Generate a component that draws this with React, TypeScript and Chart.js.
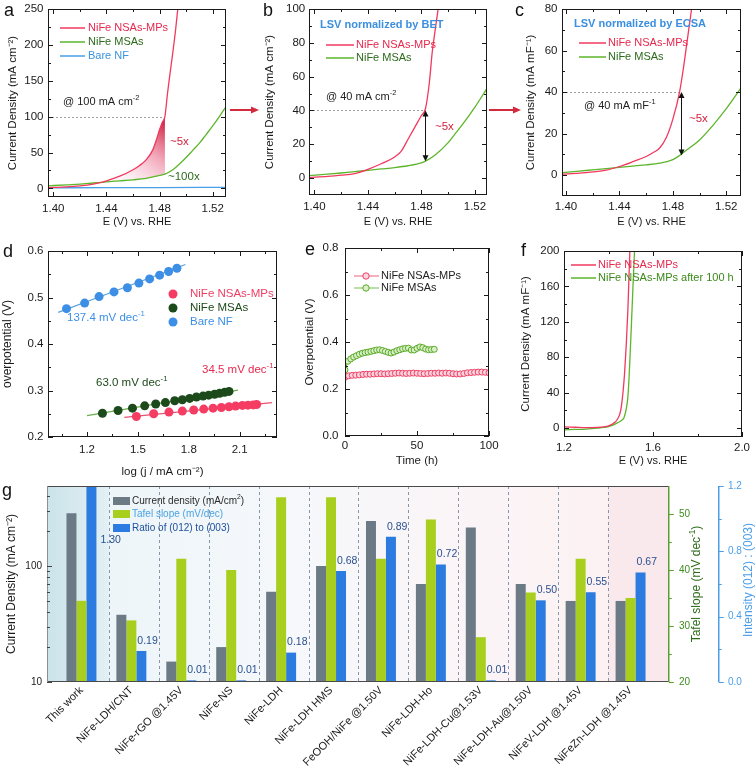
import React, { useEffect, useRef } from 'react';
import { Chart, registerables } from 'chart.js';

Chart.register(...registerables);

const FONT = "'Liberation Sans', Arial, Helvetica, sans-serif";
Chart.defaults.font.family = FONT;
Chart.defaults.color = '#1a1a1a';

/* ---------------- panel a ---------------- */
const A_X_TICKS = [1.40, 1.44, 1.48, 1.52];
const A_X_MINOR = [1.42, 1.46, 1.50];
const A_Y_TICKS = [0, 50, 100, 150, 200, 250];
const A_Y_MINOR = [25, 75, 125, 175, 225];
const A_RED_E = [1.396, 1.41, 1.42, 1.43, 1.437, 1.44, 1.45, 1.46, 1.465, 1.47, 1.475, 1.478, 1.48, 1.482, 1.484, 1.486, 1.488, 1.49, 1.492, 1.4937];
const A_RED_J = [1.0, 2.0, 3.5, 6.0, 8.8, 10.5, 17, 26, 32, 40, 54, 70, 82, 92, 100, 133, 162, 190, 220, 250];
const A_GRN_E = [1.396, 1.41, 1.42, 1.43, 1.437, 1.44, 1.45, 1.46, 1.47, 1.475, 1.48, 1.484, 1.49, 1.495, 1.50, 1.505, 1.51, 1.515, 1.52, 1.525, 1.53];
const A_GRN_J = [3.5, 5, 6, 7.5, 8.5, 9, 10.5, 12, 14, 16, 18, 20, 26, 34, 43, 53, 63, 75, 87, 100, 114];
const A_BLU_E = [1.396, 1.44, 1.48, 1.53];
const A_BLU_J = [0.8, 1.0, 1.2, 1.5];
const A_REF_J = 100;
const A_REF_E = 1.484;
const A_FILL_FROM = 1.437;

/* ---------------- panel b ---------------- */
const B_Y_TICKS = [0, 20, 40, 60, 80, 100];
const B_Y_MINOR = [10, 30, 50, 70, 90];
const B_RED_E = [1.396, 1.41, 1.42, 1.43, 1.44, 1.45, 1.46, 1.465, 1.47, 1.475, 1.48, 1.483, 1.486, 1.488, 1.49, 1.4925];
const B_RED_J = [0.3, 1.0, 1.7, 2.6, 5.2, 8.5, 12.5, 16, 23, 30, 37, 41, 57, 74, 86, 100];
const B_GRN_E = [1.396, 1.41, 1.42, 1.43, 1.44, 1.45, 1.46, 1.47, 1.48, 1.483, 1.49, 1.50, 1.505, 1.51, 1.52, 1.529];
const B_GRN_J = [1.5, 2.3, 3, 3.8, 4.6, 5.4, 6.2, 7.3, 9, 10, 13.5, 21, 26, 31, 42, 53];
const B_REF_J = 40;
const B_REF_E = 1.483;
const B_ARROW_LOW = 10;

/* ---------------- panel c ---------------- */
const C_Y_TICKS = [0, 20, 40, 60, 80];
const C_Y_MINOR = [10, 30, 50, 70];
const C_RED_E = [1.397, 1.41, 1.42, 1.43, 1.44, 1.45, 1.46, 1.465, 1.47, 1.475, 1.48, 1.485, 1.488, 1.491, 1.494];
const C_RED_J = [0.5, 1, 1.6, 2.4, 4.2, 6.5, 9, 10.8, 13, 18, 27, 40, 52, 66, 80];
const C_GRN_E = [1.397, 1.41, 1.42, 1.43, 1.44, 1.45, 1.46, 1.47, 1.48, 1.485, 1.49, 1.50, 1.51, 1.52, 1.531];
const C_GRN_J = [1.2, 2, 2.6, 3.2, 3.8, 4.4, 5, 5.8, 7.5, 9.5, 12, 17, 24, 32, 42];
const C_REF_J = 40;
const C_REF_E = 1.485;
const C_ARROW_LOW = 9.5;

/* ---------------- panel d ---------------- */
const D_X_TICKS = [1.2, 1.5, 1.8, 2.1];
const D_X_MINOR = [1.05, 1.35, 1.65, 1.95, 2.25];
const D_Y_TICKS = [0.2, 0.3, 0.4, 0.5, 0.6];
const D_Y_MINOR = [0.25, 0.35, 0.45, 0.55];
const D_BLUE_X = [1.079, 1.186, 1.271, 1.359, 1.438, 1.506, 1.569, 1.628, 1.681, 1.730];
const D_BLUE_Y = [0.476, 0.488, 0.502, 0.512, 0.521, 0.531, 0.540, 0.548, 0.556, 0.563];
const D_GREEN_X = [1.291, 1.383, 1.468, 1.540, 1.605, 1.662, 1.717, 1.762, 1.805, 1.845, 1.884, 1.917, 1.952, 1.982, 2.011, 2.037];
const D_GREEN_Y = [0.251, 0.257, 0.262, 0.267, 0.271, 0.274, 0.278, 0.280, 0.283, 0.286, 0.288, 0.290, 0.292, 0.294, 0.296, 0.298];
const D_RED_X = [1.491, 1.593, 1.683, 1.762, 1.829, 1.888, 1.943, 1.992, 2.037, 2.076, 2.116, 2.149, 2.18, 2.2];
const D_RED_Y = [0.244, 0.250, 0.2535, 0.2557, 0.258, 0.260, 0.262, 0.2634, 0.265, 0.2664, 0.268, 0.2685, 0.269, 0.270];
const D_BLUE_FIT_X = [1.03, 1.78];
const D_BLUE_FIT_Y = [0.468, 0.571];
const D_GREEN_FIT_X = [1.2, 2.09];
const D_GREEN_FIT_Y = [0.246, 0.301];
const D_RED_FIT_X = [1.42, 2.29];
const D_RED_FIT_Y = [0.242, 0.274];

/* ---------------- panel e ---------------- */
const E_X_TICKS = [0, 50, 100];
const E_X_MINOR = [25, 75];
const E_Y_TICKS = [0, 0.2, 0.4, 0.6, 0.8];
const E_Y_MINOR = [0.1, 0.3, 0.5, 0.7];
const E_RED_T = [0, 2.5, 5, 7.5, 10, 12.5, 15, 17.5, 20, 22.5, 25, 27.5, 30, 32.5, 35, 37.5, 40, 42.5, 45, 47.5, 50, 52.5, 55, 57.5, 60, 62.5, 65, 67.5, 70, 72.5, 75, 77.5, 80, 82.5, 85, 87.5, 90, 92.5, 95, 97.5, 100];
const E_RED_V = [0.250, 0.256, 0.258, 0.259, 0.260, 0.262, 0.263, 0.263, 0.264, 0.265, 0.265, 0.264, 0.265, 0.266, 0.267, 0.268, 0.267, 0.266, 0.267, 0.268, 0.267, 0.266, 0.265, 0.266, 0.267, 0.267, 0.268, 0.267, 0.268, 0.267, 0.265, 0.264, 0.264, 0.266, 0.269, 0.270, 0.271, 0.272, 0.272, 0.271, 0.269];
const E_GREEN_T = [0, 2, 4, 6, 8, 10, 12, 14, 16, 18, 20, 22, 24, 26, 28, 30, 32, 34, 36, 38, 40, 42, 44, 46, 48, 50, 52, 54, 56, 58, 60, 62];
const E_GREEN_V = [0.281, 0.318, 0.328, 0.336, 0.342, 0.348, 0.352, 0.355, 0.357, 0.360, 0.363, 0.366, 0.367, 0.364, 0.360, 0.356, 0.353, 0.357, 0.363, 0.367, 0.371, 0.373, 0.374, 0.366, 0.366, 0.373, 0.379, 0.376, 0.370, 0.367, 0.368, 0.369];

/* ---------------- panel f ---------------- */
const F_X_TICKS = [1.2, 1.6, 2.0];
const F_X_MINOR = [1.4, 1.8];
const F_Y_TICKS = [0, 40, 80, 120, 160, 200];
const F_Y_MINOR = [20, 60, 100, 140, 180];
const F_RED_E = [1.2, 1.25, 1.3, 1.35, 1.38, 1.40, 1.42, 1.44, 1.455, 1.465, 1.472, 1.48, 1.487, 1.491, 1.496];
const F_RED_J = [1.5, 1, 0.5, 0.8, 1.5, 2.5, 5, 10, 20, 40, 61, 95, 133, 163, 200];
const F_GRN_E = [1.2, 1.25, 1.3, 1.35, 1.38, 1.40, 1.42, 1.44, 1.46, 1.47, 1.48, 1.487, 1.493, 1.497, 1.5035, 1.51, 1.517];
const F_GRN_J = [-2, -1.5, -1, 0, 0.8, 1.8, 3.5, 6, 9, 12, 22, 35, 60, 82, 120, 160, 200];

/* ---------------- panel g ---------------- */
const G_CATS = ['This work', 'NiFe-LDH/CNT', 'NiFe-rGO @1.45V', 'NiFe-NS', 'NiFe-LDH', 'NiFe-LDH HMS', 'FeOOH/NiFe @1.50V', 'NiFe-LDH-Ho', 'NiFe-LDH-Cu@1.53V', 'NiFe-LDH-Au@1.50V', 'NiFeV-LDH @1.45V', 'NiFeZn-LDH @1.45V'];
const G_CURRENT = [285, 38, 15, 20, 60, 100, 245, 70, 215, 70, 50, 50];
const G_TAFEL = [34.5, 31, 42, 40, 53, 53, 42, 49, 28, 36, 42, 35];
const G_RATIO = [1.30, 0.19, 0.01, 0.01, 0.18, 0.68, 0.89, 0.72, 0.01, 0.50, 0.55, 0.67];
const G_LEFT_TICKS = [10, 100];
const G_LEFT_MINOR = [20, 30, 40, 50, 60, 70, 80, 90, 200, 300, 400];
const G_TAFEL_TICKS = [20, 30, 40, 50];
const G_TAFEL_MINOR = [25, 35, 45];
const G_RATIO_TICKS = [0, 0.4, 0.8, 1.2];
const G_RATIO_MINOR = [0.2, 0.6, 1.0];

/* ---------------- colours ---------------- */
const COL_RED = '#f2385f';
const COL_GRN = '#5db52c';
const COL_BLU = '#4aa0e6';
const TXT_RED = '#e8284f';
const TXT_DGRN = '#2c6a1c';
const TXT_BLU = '#3a93e0';

type Geo = { left: number; top: number; w: number; h: number; pt: number; pr: number; yW: number; xH: number };
const GA: Geo = { left: 0, top: 0, w: 234, h: 234, pt: 9, pr: 8, yW: 48, xH: 37 };
const GB: Geo = { left: 258, top: 0, w: 236, h: 234, pt: 9, pr: 7, yW: 51, xH: 39 };
const GC: Geo = { left: 512, top: 0, w: 244, h: 234, pt: 9, pr: 15, yW: 50, xH: 38 };
const GD: Geo = { left: 0, top: 243, w: 290, h: 240, pt: 8, pr: 13, yW: 48, xH: 46 };
const GE: Geo = { left: 300, top: 240, w: 206, h: 230, pt: 8, pr: 17, yW: 45, xH: 34 };
const GF: Geo = { left: 512, top: 243, w: 244, h: 227, pt: 8, pr: 14, yW: 52, xH: 33 };
const GG: Geo = { left: 0, top: 478, w: 756, h: 288, pt: 8, pr: 0, yW: 47, xH: 84 };

const f0 = (v: number) => String(Math.round(v));
const f1 = (v: number) => v.toFixed(1);
const f2 = (v: number) => v.toFixed(2);

function xLin(min: number, max: number, ticks: number[], fmt: (v: number) => string, h: number, title: string, tickPad: number, titlePad: number, size = 11.5, titleSize = 11) {
  return {
    type: 'linear', position: 'bottom', min, max,
    afterBuildTicks: (s: any) => { s.ticks = ticks.map((v) => ({ value: v })); },
    afterFit: (s: any) => { s.height = h; s.paddingLeft = 0; s.paddingRight = 0; },
    ticks: { callback: (v: any) => fmt(Number(v)), font: { size }, padding: tickPad, color: '#1a1a1a', maxRotation: 0, minRotation: 0, autoSkip: false },
    grid: { display: false, drawTicks: false },
    border: { display: false },
    title: { display: true, text: title, font: { size: titleSize }, color: '#1a1a1a', padding: { top: 0, bottom: titlePad } },
  };
}

function yLin(min: number, max: number, ticks: number[], fmt: (v: number) => string, w: number, title: string, tickPad: number, titlePad: number, size = 11.5, titleSize = 11.5) {
  return {
    type: 'linear', position: 'left', min, max,
    afterBuildTicks: (s: any) => { s.ticks = ticks.map((v) => ({ value: v })); },
    afterFit: (s: any) => { s.width = w; s.paddingTop = 0; s.paddingBottom = 0; },
    ticks: { callback: (v: any) => fmt(Number(v)), font: { size }, padding: tickPad, color: '#1a1a1a', autoSkip: false },
    grid: { display: false, drawTicks: false },
    border: { display: false },
    title: { display: true, text: title, font: { size: titleSize }, color: '#1a1a1a', padding: { top: titlePad, bottom: 0 } },
  };
}

function baseOpts(g: Geo, scales: any) {
  return {
    responsive: false,
    animation: false,
    devicePixelRatio: 1,
    events: [],
    layout: { padding: { top: g.pt, right: g.pr, left: 0, bottom: 0 } },
    plugins: { legend: { display: false }, tooltip: { enabled: false } },
    scales,
  };
}

function line(xs: number[], ys: number[], color: string, w = 1.3) {
  return {
    data: xs.map((x, i) => ({ x, y: ys[i] })),
    showLine: true,
    borderColor: color,
    backgroundColor: color,
    borderWidth: w,
    pointRadius: 0,
    cubicInterpolationMode: 'monotone',
    fill: false,
  };
}

function pts(xs: number[], ys: number[], color: string, r = 4.5) {
  return {
    data: xs.map((x, i) => ({ x, y: ys[i] })),
    showLine: false,
    pointRadius: r,
    pointBackgroundColor: color,
    pointBorderColor: color,
    pointBorderWidth: 0,
    backgroundColor: color,
    borderColor: color,
  };
}

type Part = [string, boolean?];
function rich(ctx: any, parts: Part[], x: number, y: number, size: number, color: string, align = 'left', bold = false) {
  ctx.save();
  ctx.fillStyle = color;
  ctx.textBaseline = 'middle';
  ctx.textAlign = 'left';
  const font = (sup?: boolean) => `${bold ? 'bold ' : ''}${sup ? size * 0.68 : size}px ${FONT}`;
  let w = 0;
  parts.forEach(([t, sup]) => { ctx.font = font(sup); w += ctx.measureText(t).width; });
  let cx = align === 'center' ? x - w / 2 : align === 'right' ? x - w : x;
  parts.forEach(([t, sup]) => {
    ctx.font = font(sup);
    ctx.fillText(t, cx, sup ? y - size * 0.36 : y);
    cx += ctx.measureText(t).width;
  });
  ctx.restore();
}

function richV(ctx: any, parts: Part[], cx: number, cy: number, size: number, color: string) {
  ctx.save();
  ctx.translate(cx, cy);
  ctx.rotate(-Math.PI / 2);
  rich(ctx, parts, 0, 0, size, color, 'center');
  ctx.restore();
}

function seg(ctx: any, x1: number, y1: number, x2: number, y2: number) {
  ctx.beginPath();
  ctx.moveTo(x1, y1);
  ctx.lineTo(x2, y2);
  ctx.stroke();
}

function frame(chart: any, xMaj: number[], xMin: number[], yMaj: number[], yMin: number[]) {
  const { ctx, chartArea: a, scales } = chart;
  const xs = scales.x, ys = scales.y;
  ctx.save();
  ctx.strokeStyle = '#1a1a1a';
  ctx.lineWidth = 1;
  ctx.setLineDash([]);
  ctx.strokeRect(a.left + 0.5, a.top + 0.5, a.right - a.left - 1, a.bottom - a.top - 1);
  const vx = (v: number, len: number) => {
    const p = Math.round(xs.getPixelForValue(v)) + 0.5;
    seg(ctx, p, a.bottom, p, a.bottom - len);
    seg(ctx, p, a.top, p, a.top + len);
  };
  const vy = (v: number, len: number) => {
    const p = Math.round(ys.getPixelForValue(v)) + 0.5;
    seg(ctx, a.left, p, a.left + len, p);
    seg(ctx, a.right, p, a.right - len, p);
  };
  xMaj.forEach((v) => vx(v, 5));
  xMin.forEach((v) => vx(v, 3));
  yMaj.forEach((v) => vy(v, 5));
  yMin.forEach((v) => vy(v, 3));
  ctx.restore();
}

function dottedH(chart: any, xFrom: number, xTo: number, yv: number) {
  const { ctx, scales } = chart;
  const y = Math.round(scales.y.getPixelForValue(yv)) + 0.5;
  ctx.save();
  ctx.strokeStyle = '#a0a0a0';
  ctx.lineWidth = 1;
  ctx.setLineDash([2, 2]);
  seg(ctx, scales.x.getPixelForValue(xFrom), y, scales.x.getPixelForValue(xTo), y);
  ctx.restore();
}

function vArrow(chart: any, xv: number, yTop: number, yBot: number) {
  const { ctx, scales } = chart;
  const x = Math.round(scales.x.getPixelForValue(xv)) + 0.5;
  const y1 = scales.y.getPixelForValue(yTop);
  const y2 = scales.y.getPixelForValue(yBot);
  ctx.save();
  ctx.strokeStyle = '#111';
  ctx.fillStyle = '#111';
  ctx.lineWidth = 1;
  seg(ctx, x, y1 + 4, x, y2 - 4);
  ctx.beginPath(); ctx.moveTo(x, y1); ctx.lineTo(x - 3, y1 + 6); ctx.lineTo(x + 3, y1 + 6); ctx.closePath(); ctx.fill();
  ctx.beginPath(); ctx.moveTo(x, y2); ctx.lineTo(x - 3, y2 - 6); ctx.lineTo(x + 3, y2 - 6); ctx.closePath(); ctx.fill();
  ctx.restore();
}

function legendLine(ctx: any, x1: number, x2: number, y: number, color: string, w = 1.5) {
  ctx.save();
  ctx.strokeStyle = color;
  ctx.lineWidth = w;
  seg(ctx, x1, y, x2, y);
  ctx.restore();
}

function dot(ctx: any, x: number, y: number, r: number, fill: string, stroke?: string) {
  ctx.save();
  ctx.beginPath();
  ctx.arc(x, y, r, 0, Math.PI * 2);
  ctx.fillStyle = fill;
  ctx.fill();
  if (stroke) { ctx.strokeStyle = stroke; ctx.lineWidth = 1; ctx.stroke(); }
  ctx.restore();
}

/* ---------------- builders ---------------- */
function buildA() {
  return {
    type: 'scatter',
    data: { datasets: [line(A_RED_E, A_RED_J, COL_RED), line(A_GRN_E, A_GRN_J, COL_GRN), line(A_BLU_E, A_BLU_J, COL_BLU)] },
    options: baseOpts(GA, {
      x: xLin(1.396, 1.53, A_X_TICKS, f2, GA.xH, 'E (V) vs. RHE', 5.4, 5.4),
      y: yLin(-12, 250, A_Y_TICKS, f0, GA.yW, 'Current Density (mA cm⁻²)', 4.5, 5.6),
    }),
    plugins: [{
      id: 'pa',
      beforeDatasetsDraw(chart: any) {
        const { ctx, chartArea: ar, scales } = chart;
        const x = scales.x, y = scales.y;
        ctx.save();
        ctx.beginPath();
        ctx.rect(ar.left, ar.top, ar.right - ar.left, ar.bottom - ar.top);
        ctx.clip();
        ctx.beginPath();
        let first = true;
        A_RED_E.forEach((e, i) => {
          if (e < A_FILL_FROM || e > A_REF_E) return;
          const px = x.getPixelForValue(e), py = y.getPixelForValue(A_RED_J[i]);
          if (first) ctx.moveTo(px, py); else ctx.lineTo(px, py);
          first = false;
        });
        for (let i = A_GRN_E.length - 1; i >= 0; i--) {
          const e = A_GRN_E[i];
          if (e < A_FILL_FROM || e > A_REF_E) continue;
          ctx.lineTo(x.getPixelForValue(e), y.getPixelForValue(A_GRN_J[i]));
        }
        ctx.closePath();
        const g = ctx.createLinearGradient(x.getPixelForValue(A_REF_E), y.getPixelForValue(95), x.getPixelForValue(1.452), y.getPixelForValue(12));
        g.addColorStop(0, 'rgba(200,16,50,0.95)');
        g.addColorStop(0.45, 'rgba(232,100,132,0.6)');
        g.addColorStop(1, 'rgba(250,225,236,0.3)');
        ctx.fillStyle = g;
        ctx.fill();
        ctx.restore();
        dottedH(chart, 1.396, A_REF_E, A_REF_J);
      },
      afterDraw(chart: any) {
        frame(chart, A_X_TICKS, A_X_MINOR, A_Y_TICKS, A_Y_MINOR);
        const ctx = chart.ctx;
        ctx.save();
        ctx.translate(-GA.left, -GA.top);
        legendLine(ctx, 60, 85, 28, COL_RED);
        legendLine(ctx, 60, 85, 42, COL_GRN);
        legendLine(ctx, 60, 85, 56, COL_BLU);
        rich(ctx, [['NiFe NSAs-MPs']], 88, 28, 11, TXT_RED);
        rich(ctx, [['NiFe MSAs']], 88, 42, 11, TXT_DGRN);
        rich(ctx, [['Bare NF']], 88, 56, 11, TXT_BLU);
        rich(ctx, [['@ 100 mA cm'], ['-2', true]], 63, 102, 11, '#222');
        rich(ctx, [['~5x']], 170, 142, 11.5, '#d4203f');
        rich(ctx, [['~100x']], 168, 177, 11.5, TXT_DGRN);
        ctx.restore();
      },
    }],
  };
}

function buildB() {
  return {
    type: 'scatter',
    data: { datasets: [line(B_RED_E, B_RED_J, COL_RED), line(B_GRN_E, B_GRN_J, COL_GRN)] },
    options: baseOpts(GB, {
      x: xLin(1.396, 1.529, A_X_TICKS, f2, GB.xH, 'E (V) vs. RHE', 4.8, 5.4),
      y: yLin(-10, 100, B_Y_TICKS, f0, GB.yW, 'Current Density (mA cm⁻²)', 3.8, 5.1),
    }),
    plugins: [{
      id: 'pb',
      beforeDatasetsDraw(chart: any) { dottedH(chart, 1.396, B_REF_E, B_REF_J); },
      afterDraw(chart: any) {
        frame(chart, A_X_TICKS, A_X_MINOR, B_Y_TICKS, B_Y_MINOR);
        vArrow(chart, B_REF_E, B_REF_J, B_ARROW_LOW);
        const ctx = chart.ctx;
        ctx.save();
        ctx.translate(-GB.left, -GB.top);
        rich(ctx, [['LSV normalized by BET']], 320, 25, 11, '#3b8fe0', 'left', true);
        legendLine(ctx, 326, 354, 45, COL_RED);
        legendLine(ctx, 326, 354, 58, COL_GRN);
        rich(ctx, [['NiFe NSAs-MPs']], 356, 45, 11, TXT_RED);
        rich(ctx, [['NiFe MSAs']], 356, 58, 11, TXT_DGRN);
        rich(ctx, [['@ 40 mA cm'], ['-2', true]], 326, 97, 11, '#222');
        rich(ctx, [['~5x']], 435, 127, 11.5, '#d4203f');
        ctx.restore();
      },
    }],
  };
}

function buildC() {
  return {
    type: 'scatter',
    data: { datasets: [line(C_RED_E, C_RED_J, COL_RED), line(C_GRN_E, C_GRN_J, COL_GRN)] },
    options: baseOpts(GC, {
      x: xLin(1.397, 1.531, A_X_TICKS, f2, GC.xH, 'E (V) vs. RHE', 3.8, 5.4),
      y: yLin(-10, 80, C_Y_TICKS, f0, GC.yW, 'Current Density (mA mF⁻¹)', 4.5, 11.8),
    }),
    plugins: [{
      id: 'pc',
      beforeDatasetsDraw(chart: any) { dottedH(chart, 1.397, C_REF_E, C_REF_J); },
      afterDraw(chart: any) {
        frame(chart, A_X_TICKS, A_X_MINOR, C_Y_TICKS, C_Y_MINOR);
        vArrow(chart, C_REF_E + 0.001, C_REF_J, C_ARROW_LOW);
        const ctx = chart.ctx;
        ctx.save();
        ctx.translate(-GC.left, -GC.top);
        rich(ctx, [['LSV normalized by ECSA']], 574, 24, 11, '#3b8fe0', 'left', true);
        legendLine(ctx, 579, 606, 43, COL_RED);
        legendLine(ctx, 579, 606, 57, COL_GRN);
        rich(ctx, [['NiFe NSAs-MPs']], 608, 43, 11, TXT_RED);
        rich(ctx, [['NiFe MSAs']], 608, 57, 11, TXT_DGRN);
        rich(ctx, [['@ 40 mA mF'], ['-1', true]], 584, 106, 11, '#222');
        rich(ctx, [['~5x']], 689, 119, 11.5, '#d4203f');
        ctx.restore();
      },
    }],
  };
}

const D_PT_RED = '#f53d63';
const D_PT_GRN = '#1d4a1b';
const D_PT_BLU = '#3d8fe6';

function buildD() {
  return {
    type: 'scatter',
    data: {
      datasets: [
        pts(D_RED_X, D_RED_Y, D_PT_RED),
        pts(D_GREEN_X, D_GREEN_Y, D_PT_GRN),
        pts(D_BLUE_X, D_BLUE_Y, D_PT_BLU),
        line(D_RED_FIT_X, D_RED_FIT_Y, '#e8506e', 1.2),
        line(D_GREEN_FIT_X, D_GREEN_FIT_Y, '#6ab04c', 1.2),
        line(D_BLUE_FIT_X, D_BLUE_FIT_Y, '#5aa0d8', 1.2),
      ],
    },
    options: baseOpts(GD, {
      x: xLin(0.97, 2.32, D_X_TICKS, f1, GD.xH, 'log (j / mA cm⁻²)', 5.5, 3.8, 11.5, 11.5),
      y: yLin(0.2, 0.6, D_Y_TICKS, f1, GD.yW, 'overpotential (V)', 4.5, 0, 11.5, 12),
    }),
    plugins: [{
      id: 'pd',
      afterDraw(chart: any) {
        frame(chart, D_X_TICKS, D_X_MINOR, D_Y_TICKS, D_Y_MINOR);
        const ctx = chart.ctx;
        ctx.save();
        ctx.translate(-GD.left, -GD.top);
        dot(ctx, 173, 294, 4.5, D_PT_RED);
        dot(ctx, 173, 308, 4.5, D_PT_GRN);
        dot(ctx, 173, 322, 4.5, D_PT_BLU);
        rich(ctx, [['NiFe NSAs-MPs']], 190, 294, 11.5, '#f03c64');
        rich(ctx, [['NiFe MSAs']], 190, 308, 11.5, D_PT_GRN);
        rich(ctx, [['Bare NF']], 190, 322, 11.5, D_PT_BLU);
        rich(ctx, [['137.4 mV dec'], ['-1', true]], 67, 318, 11.5, D_PT_BLU);
        rich(ctx, [['63.0 mV dec'], ['-1', true]], 96, 383, 11.5, D_PT_GRN);
        rich(ctx, [['34.5 mV dec'], ['-1', true]], 202, 370, 11.5, TXT_RED);
        ctx.restore();
      },
    }],
  };
}

function ring(xs: number[], ys: number[], stroke: string, fill: string) {
  return {
    data: xs.map((x, i) => ({ x, y: ys[i] })),
    showLine: true,
    borderColor: stroke,
    borderWidth: 1,
    pointRadius: 3,
    pointBorderWidth: 1,
    pointBorderColor: stroke,
    pointBackgroundColor: fill,
    backgroundColor: fill,
  };
}

function buildE() {
  return {
    type: 'scatter',
    data: {
      datasets: [
        ring(E_RED_T, E_RED_V, '#ef4167', '#fbd3dc'),
        ring(E_GREEN_T, E_GREEN_V, '#5aa92a', '#d9f0c6'),
      ],
    },
    options: baseOpts(GE, {
      x: xLin(0, 100, E_X_TICKS, f0, GE.xH, 'Time (h)', 3.2, 2.1, 11.5, 11.5),
      y: yLin(0, 0.8, E_Y_TICKS, f1, GE.yW, 'Overpotential (V)', 6.5, 3.1, 11.5, 11.5),
    }),
    plugins: [{
      id: 'pe',
      afterDraw(chart: any) {
        frame(chart, E_X_TICKS, E_X_MINOR, E_Y_TICKS, E_Y_MINOR);
        const ctx = chart.ctx;
        ctx.save();
        ctx.translate(-GE.left, -GE.top);
        legendLine(ctx, 354, 379, 276, '#ef7c95', 1.2);
        dot(ctx, 366, 276, 3.2, '#fbd3dc', '#ef4167');
        legendLine(ctx, 354, 379, 288, '#8cc86a', 1.2);
        dot(ctx, 366, 288, 3.2, '#d9f0c6', '#5aa92a');
        rich(ctx, [['NiFe NSAs-MPs']], 381, 276, 11, '#222');
        rich(ctx, [['NiFe MSAs']], 381, 288, 11, '#222');
        ctx.restore();
      },
    }],
  };
}

function buildF() {
  return {
    type: 'scatter',
    data: { datasets: [line(F_RED_E, F_RED_J, COL_RED), line(F_GRN_E, F_GRN_J, COL_GRN)] },
    options: baseOpts(GF, {
      x: xLin(1.2, 2.0, F_X_TICKS, f1, GF.xH, 'E (V) vs. RHE', 4.4, 2.4),
      y: yLin(-10, 200, F_Y_TICKS, f0, GF.yW, 'Current Density (mA mF⁻¹)', 4.5, 6.8),
    }),
    plugins: [{
      id: 'pf',
      afterDraw(chart: any) {
        frame(chart, F_X_TICKS, F_X_MINOR, F_Y_TICKS, F_Y_MINOR);
        const ctx = chart.ctx;
        ctx.save();
        ctx.translate(-GF.left, -GF.top);
        legendLine(ctx, 571, 596, 265, COL_RED);
        legendLine(ctx, 571, 596, 278, COL_GRN);
        rich(ctx, [['NiFe NSAs-MPs']], 598, 265, 11, TXT_RED);
        rich(ctx, [['NiFe NSAs-MPs after 100 h']], 598, 278, 11, '#3a8a1a');
        ctx.restore();
      },
    }],
  };
}

const G_GREY = '#6b7a84';
const G_LIME = '#a8cf1e';
const G_BLUE = '#2b7be0';
const G_SEP = 0.55;

function buildG() {
  return {
    type: 'bar',
    data: {
      datasets: [
        { data: G_CURRENT.map((v, i) => ({ x: i, y: v })), backgroundColor: G_GREY, yAxisID: 'y', xAxisID: 'x', categoryPercentage: 0.6, barPercentage: 1, base: 10, borderWidth: 0 },
        { data: G_TAFEL.map((v, i) => ({ x: i, y: v })), backgroundColor: G_LIME, yAxisID: 'y1', xAxisID: 'x', categoryPercentage: 0.6, barPercentage: 1, base: 20, borderWidth: 0 },
        { data: G_RATIO.map((v, i) => ({ x: i, y: v })), backgroundColor: G_BLUE, yAxisID: 'y2', xAxisID: 'x', categoryPercentage: 0.6, barPercentage: 1, base: 0, borderWidth: 0 },
      ],
    },
    options: baseOpts(GG, {
      x: {
        type: 'linear', position: 'bottom', min: -0.69, max: 11.75, offset: false,
        afterBuildTicks: (s: any) => { s.ticks = G_CATS.map((_, i) => ({ value: i })); },
        afterFit: (s: any) => { s.height = GG.xH; s.paddingLeft = 0; s.paddingRight = 0; },
        ticks: { callback: (v: any) => G_CATS[Math.round(Number(v))], font: { size: 11 }, color: '#1a1a1a', padding: 2, minRotation: 45, maxRotation: 45, autoSkip: false },
        grid: { display: false, drawTicks: false, offset: false },
        border: { display: false },
      },
      y: {
        type: 'logarithmic', position: 'left', min: 10, max: 490,
        afterBuildTicks: (s: any) => { s.ticks = G_LEFT_TICKS.map((v) => ({ value: v })); },
        afterFit: (s: any) => { s.width = GG.yW; s.paddingTop = 0; s.paddingBottom = 0; },
        ticks: { callback: (v: any) => String(v), font: { size: 10 }, padding: 5, color: '#1a1a1a' },
        grid: { display: false, drawTicks: false },
        border: { display: false },
        title: { display: true, text: 'Current Density (mA cm⁻²)', font: { size: 12 }, color: '#1a1a1a', padding: { top: 4.5, bottom: 0 } },
      },
      y1: {
        type: 'linear', position: 'right', min: 20, max: 55,
        afterBuildTicks: (s: any) => { s.ticks = G_TAFEL_TICKS.map((v) => ({ value: v })); },
        afterFit: (s: any) => { s.width = 50; s.paddingTop = 0; s.paddingBottom = 0; },
        ticks: { callback: (v: any) => String(v), font: { size: 10 }, padding: 11, color: '#3d8c1e' },
        grid: { display: false, drawTicks: false },
        border: { display: false },
      },
      y2: {
        type: 'linear', position: 'right', min: 0, max: 1.2,
        afterBuildTicks: (s: any) => { s.ticks = G_RATIO_TICKS.map((v) => ({ value: v })); },
        afterFit: (s: any) => { s.width = 38; s.paddingTop = 0; s.paddingBottom = 0; },
        ticks: { callback: (v: any) => Number(v).toFixed(1), font: { size: 10 }, padding: 10, color: '#4a9ee8' },
        grid: { display: false, drawTicks: false },
        border: { display: false },
      },
    }),
    plugins: [{
      id: 'pg',
      beforeDatasetsDraw(chart: any) {
        const { ctx, chartArea: a, scales } = chart;
        const xs = scales.x;
        const W = a.right - a.left, H = a.bottom - a.top;
        ctx.save();
        const bg = ctx.createLinearGradient(a.left, 0, a.right, 0);
        bg.addColorStop(0, '#eaf4f8');
        bg.addColorStop(0.4, '#f6f8fb');
        bg.addColorStop(0.7, '#fbf4f6');
        bg.addColorStop(1, '#fcf0f2');
        ctx.fillStyle = bg;
        ctx.fillRect(a.left, a.top, W, H);
        const b1 = xs.getPixelForValue(G_SEP);
        const g1 = ctx.createLinearGradient(a.left, 0, b1, 0);
        g1.addColorStop(0, '#cbe3ea');
        g1.addColorStop(1, '#e3f0f5');
        ctx.fillStyle = g1;
        ctx.fillRect(a.left, a.top, b1 - a.left, H);
        const bl = xs.getPixelForValue(G_CATS.length - 2 + G_SEP);
        ctx.fillStyle = '#fae9ec';
        ctx.fillRect(bl, a.top, a.right - bl, H);
        ctx.strokeStyle = '#8596aa';
        ctx.lineWidth = 1;
        ctx.setLineDash([3, 3]);
        for (let k = 0; k < G_CATS.length - 1; k++) {
          const p = Math.round(xs.getPixelForValue(k + G_SEP)) + 0.5;
          seg(ctx, p, a.top, p, a.bottom);
        }
        ctx.restore();
      },
      afterDraw(chart: any) {
        const { ctx, chartArea: a, scales } = chart;
        const ys = scales.y, y1 = scales.y1, y2 = scales.y2;
        ctx.save();
        ctx.setLineDash([]);
        ctx.lineWidth = 1;
        ctx.strokeStyle = '#4a4a4a';
        seg(ctx, a.left, a.top + 0.5, a.right, a.top + 0.5);
        seg(ctx, a.left, a.bottom - 0.5, a.right, a.bottom - 0.5);
        ctx.strokeStyle = '#8a8f94';
        seg(ctx, a.left + 0.5, a.top, a.left + 0.5, a.bottom);
        ctx.strokeStyle = '#444';
        G_LEFT_TICKS.forEach((v) => { const p = Math.round(ys.getPixelForValue(v)) + 0.5; seg(ctx, a.left, p, a.left + 5, p); });
        G_LEFT_MINOR.forEach((v) => { const p = Math.round(ys.getPixelForValue(v)) + 0.5; seg(ctx, a.left, p, a.left + 3, p); });
        // Tafel axis
        ctx.strokeStyle = '#5c9e2e';
        ctx.lineWidth = 1.5;
        const tx = y1.left + 0.75;
        seg(ctx, tx, a.top, tx, a.bottom);
        ctx.lineWidth = 1;
        G_TAFEL_TICKS.forEach((v) => { const p = Math.round(y1.getPixelForValue(v)) + 0.5; seg(ctx, tx, p, tx + 5, p); });
        G_TAFEL_MINOR.forEach((v) => { const p = Math.round(y1.getPixelForValue(v)) + 0.5; seg(ctx, tx, p, tx + 3, p); });
        // ratio axis
        ctx.strokeStyle = '#4a9ee8';
        ctx.lineWidth = 1.5;
        const rx = y2.left + 0.75;
        seg(ctx, rx, a.top, rx, a.bottom);
        ctx.lineWidth = 1;
        G_RATIO_TICKS.forEach((v) => { const p = Math.round(y2.getPixelForValue(v)) + 0.5; seg(ctx, rx, p, rx + 5, p); });
        G_RATIO_MINOR.forEach((v) => { const p = Math.round(y2.getPixelForValue(v)) + 0.5; seg(ctx, rx, p, rx + 3, p); });
        // right axis titles
        richV(ctx, [['Tafel slope (mV dec'], ['-1', true], [')']], y1.left + 29, (a.top + a.bottom) / 2, 12, '#2d6a1a');
        richV(ctx, [['Intensity (012) : (003)']], y2.left + 31, (a.top + a.bottom) / 2 - 4, 12, '#4a9ee8');
        // value labels on ratio bars
        const meta = chart.getDatasetMeta(2);
        meta.data.forEach((bar: any, i: number) => {
          const txt = G_RATIO[i].toFixed(2);
          if (G_RATIO[i] > y2.max) {
            rich(ctx, [[txt]], bar.x + 9, a.top + 54, 10.5, '#29508f');
          } else {
            rich(ctx, [[txt]], bar.x - 4, bar.y - 10, 10.5, '#29508f');
          }
        });
        // legend
        ctx.translate(-GG.left, -GG.top);
        ctx.fillStyle = G_GREY; ctx.fillRect(113, 497, 17, 8);
        ctx.fillStyle = G_LIME; ctx.fillRect(113, 510, 17, 8);
        ctx.fillStyle = G_BLUE; ctx.fillRect(113, 524, 17, 8);
        rich(ctx, [['Current density (mA/cm'], ['2', true], [')']], 132, 501, 10, '#2a2a2a');
        rich(ctx, [['Tafel slope (mV/dec)']], 132, 514, 10, '#4ba3e3');
        rich(ctx, [['Ratio of (012) to (003)']], 132, 528, 10, '#1d4f9c');
        ctx.restore();
      },
    }],
  };
}

function Panel({ geo, build }: { geo: Geo; build: () => any }) {
  const ref = useRef<HTMLCanvasElement | null>(null);
  useEffect(() => {
    if (!ref.current) return;
    const chart = new Chart(ref.current, build());
    return () => chart.destroy();
  }, []);
  return (
    <canvas
      ref={ref}
      width={geo.w}
      height={geo.h}
      style={{ position: 'absolute', left: geo.left, top: geo.top, width: geo.w, height: geo.h }}
    />
  );
}

export default function App() {
  const letter = { fontFamily: FONT, fontSize: 18, fill: '#111' } as any;
  return (
    <div style={{ position: 'absolute', left: 0, top: 0, width: 756, height: 766, background: '#fff', overflow: 'hidden' }}>
      <Panel geo={GA} build={buildA} />
      <Panel geo={GB} build={buildB} />
      <Panel geo={GC} build={buildC} />
      <Panel geo={GD} build={buildD} />
      <Panel geo={GE} build={buildE} />
      <Panel geo={GF} build={buildF} />
      <Panel geo={GG} build={buildG} />
      <svg width={756} height={766} style={{ position: 'absolute', left: 0, top: 0, pointerEvents: 'none' }}>
        <text x={4} y={16} {...letter}>a</text>
        <text x={263} y={16} {...letter}>b</text>
        <text x={515} y={16} {...letter}>c</text>
        <text x={3} y={257} {...letter}>d</text>
        <text x={305} y={255} {...letter}>e</text>
        <text x={521} y={256} {...letter}>f</text>
        <text x={2} y={496} {...letter}>g</text>
        <line x1={230} y1={110} x2={252} y2={110} stroke="#d42a3e" strokeWidth={2} />
        <polygon points="251,106.5 259,110 251,113.5" fill="#d42a3e" />
        <line x1={489} y1={110} x2={514} y2={110} stroke="#d42a3e" strokeWidth={2} />
        <polygon points="513,106.5 521,110 513,113.5" fill="#d42a3e" />
      </svg>
    </div>
  );
}
